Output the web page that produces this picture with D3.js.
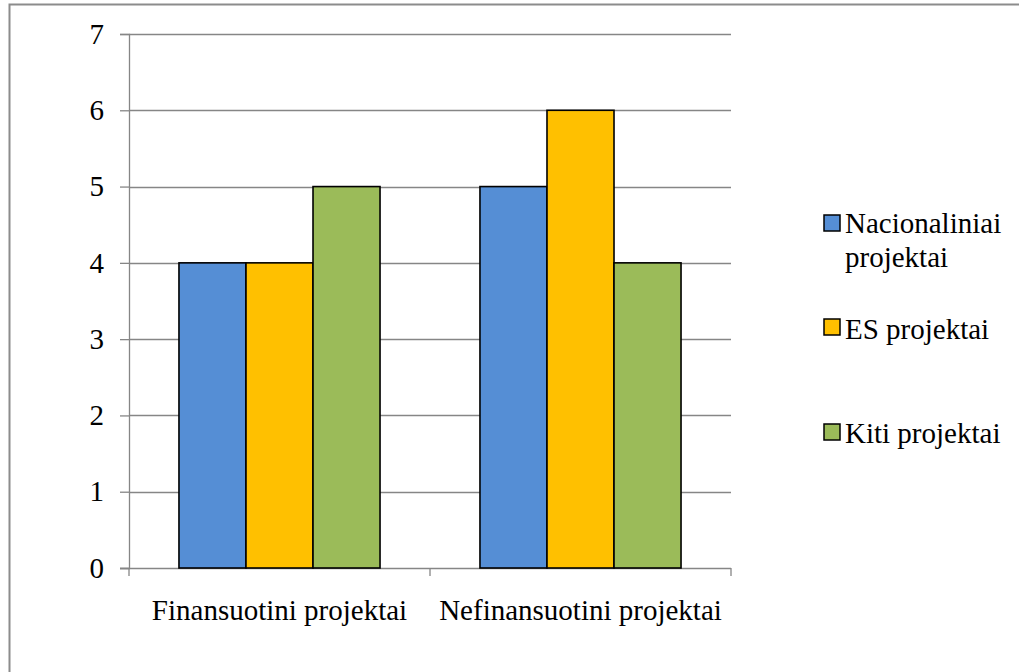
<!DOCTYPE html>
<html>
<head>
<meta charset="utf-8">
<script src="https://cdn.jsdelivr.net/npm/d3@7"></script>
<style>
  html, body { margin: 0; padding: 0; background: #fff; }
  svg { display: block; }
</style>
</head>
<body>
<svg id="chart" width="1019" height="672"></svg>
<script>
// Project counts by funding status and project type
const categories = ["Finansuotini projektai", "Nefinansuotini projektai"];
const seriesNames = ["Nacionaliniai projektai", "ES projektai", "Kiti projektai"];
const nacionaliniai = [4, 5];
const es = [4, 6];
const kiti = [5, 4];
const yTicks = [0, 1, 2, 3, 4, 5, 6, 7];
const legendLines = [["Nacionaliniai", "projektai"], ["ES projektai"], ["Kiti projektai"]];

const seriesValues = [nacionaliniai, es, kiti];
const colors = ["#558ED5", "#FFC000", "#9BBB59"];

const svg = d3.select("#chart");
const plot = { left: 129, right: 731, top: 34, bottom: 568 };
const fontSize = 29;
const serif = "'Liberation Serif', 'Times New Roman', Tinos, serif";
const gridColor = "#868686";

// Outer frame
svg.append("rect")
  .attr("x", 9.5).attr("y", 4.5)
  .attr("width", 1030).attr("height", 700)
  .attr("fill", "none").attr("stroke", "#8c8c8c").attr("stroke-width", 2);

const y = d3.scaleLinear().domain([0, 7]).range([plot.bottom, plot.top]);
const x0 = d3.scaleBand().domain(categories).range([plot.left, plot.right])
  .paddingInner(0.332).paddingOuter(0.166);
const x1 = d3.scaleBand().domain(d3.range(seriesNames.length)).range([0, x0.bandwidth()]);

// Horizontal gridlines
svg.append("g").selectAll("line").data(yTicks.filter(d => d > 0)).join("line")
  .attr("x1", plot.left).attr("x2", plot.right)
  .attr("y1", d => Math.round(y(d)) + 0.5).attr("y2", d => Math.round(y(d)) + 0.5)
  .attr("stroke", gridColor).attr("stroke-width", 1.3);

// Y axis
const yAxis = d3.axisLeft(y).tickValues(yTicks).tickSize(9).tickPadding(16).tickFormat(d3.format("d"));
const gy = svg.append("g").attr("transform", `translate(${plot.left},0)`).call(yAxis);
gy.attr("font-family", null).attr("font-size", null);
gy.select(".domain").attr("stroke", gridColor).attr("stroke-width", 1.3);
gy.selectAll(".tick line").attr("stroke", gridColor).attr("stroke-width", 1.3);
gy.selectAll(".tick text")
  .style("font-family", serif)
  .style("font-size", fontSize + "px").attr("fill", "#000");

// X axis with ticks at category boundaries
const boundaries = [plot.left].concat(categories.map(c => x0(c) + x0.bandwidth() + x0.step() * x0.paddingOuter()));
const gx = svg.append("g");
gx.append("line")
  .attr("x1", plot.left - 9).attr("x2", plot.right)
  .attr("y1", plot.bottom + 0.5).attr("y2", plot.bottom + 0.5)
  .attr("stroke", gridColor).attr("stroke-width", 1.3);
gx.selectAll("line.tk").data(boundaries).join("line").attr("class", "tk")
  .attr("x1", d => d).attr("x2", d => d)
  .attr("y1", plot.bottom).attr("y2", plot.bottom + 8)
  .attr("stroke", gridColor).attr("stroke-width", 1.3);
gx.selectAll("text").data(categories).join("text")
  .attr("x", d => x0(d) + x0.bandwidth() / 2)
  .attr("y", 620)
  .attr("text-anchor", "middle")
  .style("font-family", serif)
  .style("font-size", fontSize + "px")
  .attr("fill", "#000")
  .text(d => d);

// Bars
const groups = svg.append("g").selectAll("g").data(categories).join("g")
  .attr("transform", d => `translate(${x0(d)},0)`);
groups.selectAll("rect")
  .data((c, ci) => seriesValues.map((vals, si) => ({ si, v: vals[ci] })))
  .join("rect")
  .attr("x", d => x1(d.si))
  .attr("y", d => y(d.v))
  .attr("width", x1.bandwidth())
  .attr("height", d => y(0) - y(d.v))
  .attr("fill", d => colors[d.si])
  .attr("stroke", "#000").attr("stroke-width", 1.6);

// Legend: swatch top and text baseline per entry
const legendSwatchTop = [215, 319, 424];
const legendBaseline = [233, 339, 443];
const lg = svg.append("g");
legendLines.forEach((lines, i) => {
  lg.append("rect")
    .attr("x", 824).attr("y", legendSwatchTop[i])
    .attr("width", 16).attr("height", 16)
    .attr("fill", colors[i]).attr("stroke", "#000").attr("stroke-width", 1.5);
  const t = lg.append("text").attr("x", 845).attr("y", legendBaseline[i])
    .style("font-family", serif).style("font-size", fontSize + "px").attr("fill", "#000");
  lines.forEach((ln, j) => {
    t.append("tspan").attr("x", 845).attr("dy", j === 0 ? 0 : 34).text(ln);
  });
});
</script>
</body>
</html>
